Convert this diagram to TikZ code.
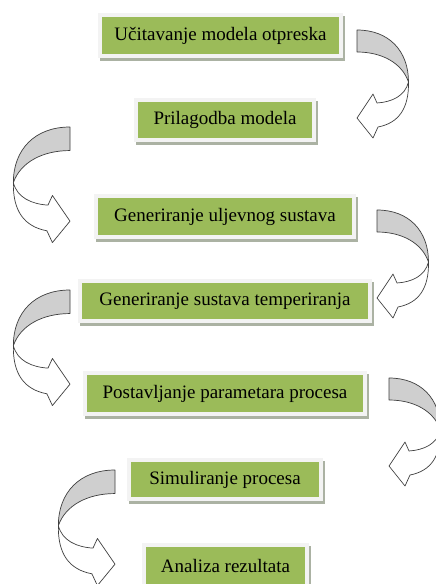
\documentclass[tikz,border=0pt]{standalone}
\usepackage{fontspec}
\setmainfont{Liberation Serif}
\definecolor{boxgreen}{HTML}{9BBB59}
\definecolor{framecol}{HTML}{F3F3F3}
\definecolor{shadowcol}{HTML}{ABB2A3}
\definecolor{arrowgray}{HTML}{CFCFCF}
\definecolor{arrowline}{HTML}{3F3F3F}
\tikzset{
  stepbox/.style={fill=boxgreen, draw=framecol, line width=4pt, inner sep=0pt,
    font=\fontsize{19}{23}\selectfont,
    preaction={draw=shadowcol, fill=shadowcol, line width=4pt,
      transform canvas={xshift=2pt, yshift=-3pt}}},
  bandface/.style={fill=arrowgray, draw=arrowline, line width=0.7pt, line join=round},
  bandback/.style={fill=white, draw=arrowline, line width=0.7pt, line join=round},
  rarrow/.pic={
    \filldraw[bandback] (51.5,52) .. controls (52,78) and (42,93) .. (21,97)
      -- (16,108) -- (0,88) -- (16,64) -- (20,73)
      .. controls (35,72) and (48,66) .. (51.5,52) -- cycle;
    \filldraw[bandface] (0,0) .. controls (32,0) and (51.5,21) .. (51.5,52)
      .. controls (45,33) and (25,22) .. (0,22) -- cycle;
  }
}
\begin{document}
\begin{tikzpicture}[x=1pt, y=-1pt]
\clip (0,0) rectangle (436,584);
\fill[white] (0,0) rectangle (436,584);

\node[stepbox, minimum width=241pt, minimum height=41pt] (b1) at (220.5,35.5) {Učitavanje modela otpreska};
\node[stepbox, minimum width=178pt, minimum height=40pt] (b2) at (225,120) {Prilagodba modela};
\node[stepbox, minimum width=258pt, minimum height=41pt] (b3) at (225,216.5) {Generiranje uljevnog sustava};
\node[stepbox, minimum width=290pt, minimum height=40pt] (b4) at (225,301) {Generiranje sustava temperiranja};
\node[stepbox, minimum width=280pt, minimum height=41pt] (b5) at (225,393.5) {Postavljanje parametara procesa};
\node[stepbox, minimum width=192pt, minimum height=39pt] (b6) at (225,479.5) {Simuliranje procesa};
\node[stepbox, minimum width=163pt, minimum height=41pt] (b7) at (225.5,565.5) {Analiza rezultata};

\pic (a1) at (357,30) {rarrow};
\pic[xscale=-1.1, yscale=1.07] (a2) at (70,127) {rarrow};
\pic (a3) at (377,210) {rarrow};
\pic[xscale=-1.1, yscale=1.07] (a4) at (70,290) {rarrow};
\pic (a5) at (389,378) {rarrow};
\pic[xscale=-1.1, yscale=1.07] (a6) at (115,470) {rarrow};
\end{tikzpicture}
\end{document}
